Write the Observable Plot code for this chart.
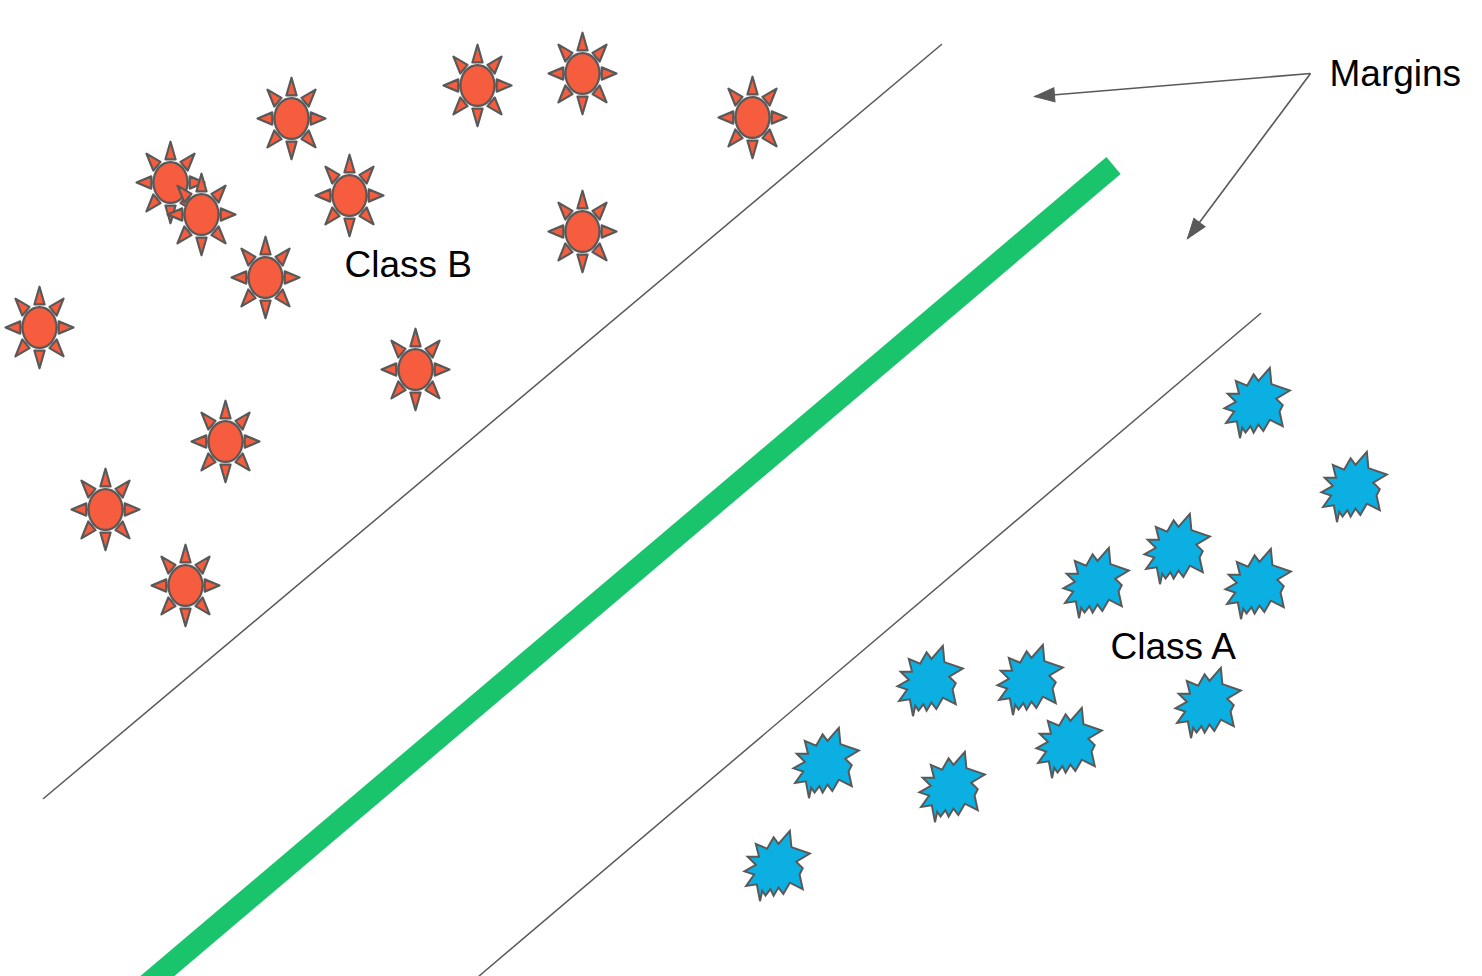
<!DOCTYPE html>
<html>
<head>
<meta charset="utf-8">
<script src="https://cdn.jsdelivr.net/npm/d3@7"></script>
<script src="https://cdn.jsdelivr.net/npm/@observablehq/plot@0.6"></script>
<style>
  html, body { margin: 0; padding: 0; background: #fff; }
  #chart svg { display: block; }
</style>
</head>
<body>
<div id="chart"></div>
<script>
// ---- data (positions in the diagram's own coordinate space) ----
const classBx = [291, 477, 582, 752, 170, 201, 349, 582, 265, 39, 415, 225, 105, 185];
const classBy = [118, 85, 73, 117, 182, 214, 195, 231, 277, 327, 369, 441, 509, 585];
const classAx = [1257, 1354, 1177, 1096, 1258, 930, 1030, 1208, 1069, 826, 952, 777];
const classAy = [403, 487, 549, 583, 584, 681, 680, 703, 743, 763, 787, 866];
const upperMarginX = [43, 941];
const upperMarginY = [798, 44];
const lowerMarginX = [478, 1260];
const lowerMarginY = [976, 313];
const hyperplaneX = [128, 1113];
const hyperplaneY = [1000, 165];
const arrowFrom = {x: 1310, y: 73};
const arrowTipX = [1034, 1187];
const arrowTipY = [96, 238];
const labelText = ["Margins", "Class B", "Class A"];
const labelX = [1329, 344, 1110];
const labelY = [74, 265, 647];

// ---- build tables ----
const suns = classBx.map((x, i) => ({x, y: classBy[i]}));
const stars = classAx.map((x, i) => ({x, y: classAy[i]}));
const upper = upperMarginX.map((x, i) => ({x, y: upperMarginY[i]}));
const lower = lowerMarginX.map((x, i) => ({x, y: lowerMarginY[i]}));
const hyper = hyperplaneX.map((x, i) => ({x, y: hyperplaneY[i]}));
const arrows = arrowTipX.map((x, i) => ({x1: arrowFrom.x, y1: arrowFrom.y, x2: x, y2: arrowTipY[i]}));
const labels = labelText.map((t, i) => ({t, x: labelX[i], y: labelY[i]}));

// ---- custom symbols ----
const sunSymbol = {
  draw(ctx, size) {
    const r = Math.sqrt(size / Math.PI);
    const rx = r, ry = r * 1.2, k = 0.5523;
    ctx.moveTo(rx, 0);
    ctx.bezierCurveTo(rx, k * ry, k * rx, ry, 0, ry);
    ctx.bezierCurveTo(-k * rx, ry, -rx, k * ry, -rx, 0);
    ctx.bezierCurveTo(-rx, -k * ry, -k * rx, -ry, 0, -ry);
    ctx.bezierCurveTo(k * rx, -ry, rx, -k * ry, rx, 0);
    ctx.closePath();
    for (let i = 0; i < 8; i++) {
      const a = i * Math.PI / 4, c = Math.cos(a), s = Math.sin(a);
      const b = 1.13, tip = 2.0, hw = 0.3;
      const p = (u, v) => [(c * u - s * v) * rx, (s * u + c * v) * ry];
      const [x0, y0] = p(tip, 0), [x1, y1] = p(b, hw), [x2, y2] = p(b, -hw);
      ctx.moveTo(x0, y0); ctx.lineTo(x1, y1); ctx.lineTo(x2, y2); ctx.closePath();
    }
  }
};
const starShape = [[12.7,-36.7],[14.3,-20],[33.3,-13.3],[19.3,-5],[26,1.7],[22.7,8.3],[26,23.3],[12.7,16.7],
  [6,28.3],[1,21.7],[-4,30],[-7.3,23.3],[-12.3,30],[-15.7,25],[-18,35.7],[-21.3,18.3],[-32.3,20],[-24,8.3],
  [-34,5],[-22.3,-1.7],[-30.7,-10],[-19,-10],[-22.3,-23.3],[-10.7,-18.3],[-4,-30],[1,-23.3]];
const starSymbol = {
  draw(ctx, size) {
    const f = Math.sqrt(size / Math.PI) / 35;
    starShape.forEach(([x, y], i) => i ? ctx.lineTo(x * f, y * f) : ctx.moveTo(x * f, y * f));
    ctx.closePath();
  }
};
const headSymbol = {
  draw(ctx, size) {
    const f = Math.sqrt(size / Math.PI) / 10;
    ctx.moveTo(0, 0); ctx.lineTo(-7 * f, 20 * f); ctx.lineTo(7 * f, 20 * f); ctx.closePath();
  }
};

const gray = "#595959";
const chart = Plot.plot({
  width: 1482,
  height: 976,
  margin: 0,
  x: {domain: [0, 1482], range: [0, 1482], axis: null},
  y: {domain: [0, 976], range: [0, 976], axis: null},
  style: {background: "#fff", fontFamily: "Arial, 'Liberation Sans', sans-serif"},
  marks: [
    Plot.line(upper, {x: "x", y: "y", stroke: gray, strokeWidth: 1.5}),
    Plot.line(lower, {x: "x", y: "y", stroke: gray, strokeWidth: 1.5, clip: true}),
    Plot.line(hyper, {x: "x", y: "y", stroke: "#19c46c", strokeWidth: 22, strokeLinecap: "butt", clip: true}),
    Plot.link(arrows, {x1: "x1", y1: "y1", x2: "x2", y2: "y2", stroke: gray, strokeWidth: 1.6}),
    Plot.dot(arrows, {x: "x2", y: "y2", r: 10, symbol: headSymbol, fill: gray, stroke: gray, strokeWidth: 1,
      rotate: d => Math.atan2(d.x2 - d.x1, -(d.y2 - d.y1)) * 180 / Math.PI}),
    Plot.dot(suns, {x: "x", y: "y", r: 17, symbol: sunSymbol, fill: "#f55d3e", stroke: gray, strokeWidth: 2.2, strokeLinejoin: "round"}),
    Plot.dot(stars, {x: "x", y: "y", r: 34, symbol: starSymbol, fill: "#0bafe1", stroke: gray, strokeWidth: 2, strokeLinejoin: "miter"}),
    Plot.text(labels, {x: "x", y: "y", text: "t", textAnchor: "start", fontSize: 37, fill: "#000"})
  ]
});
document.getElementById("chart").appendChild(chart);
</script>
</body>
</html>
